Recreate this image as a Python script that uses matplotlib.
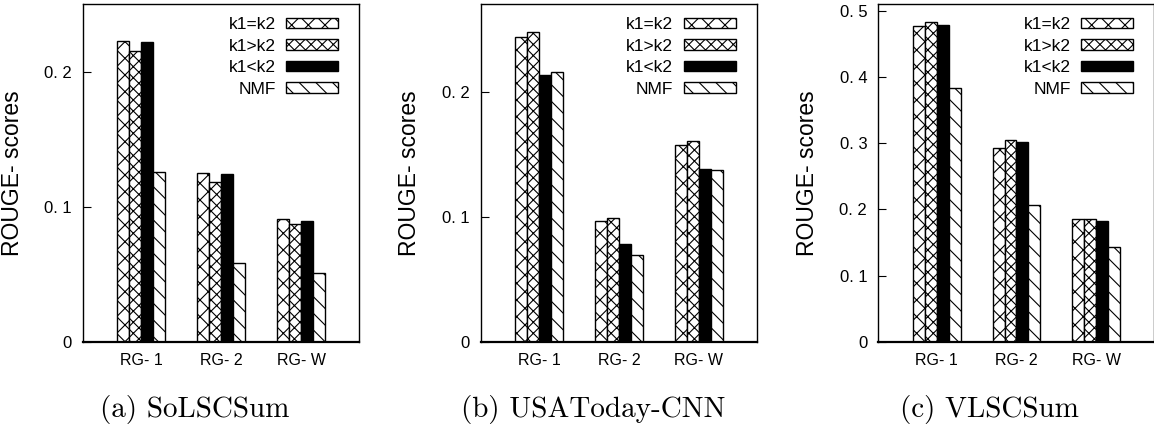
import numpy as np
import matplotlib
matplotlib.use("Agg")
import matplotlib.pyplot as plt

# ------------------------------------------------------------
# Données
# ------------------------------------------------------------
categories = ["RG- 1", "RG- 2", "RG- W"]
series_names = ["k1=k2", "k1>k2", "k1<k2", "NMF"]

solscsum = {
    "k1=k2": [0.2225, 0.1250, 0.0913],
    "k1>k2": [0.2150, 0.1183, 0.0872],
    "k1<k2": [0.2217, 0.1244, 0.0896],
    "NMF":   [0.1254, 0.0583, 0.0513],
}
usatoday_cnn = {
    "k1=k2": [0.2435, 0.0963, 0.1571],
    "k1>k2": [0.2480, 0.0992, 0.1603],
    "k1<k2": [0.2131, 0.0782, 0.1382],
    "NMF":   [0.2155, 0.0691, 0.1371],
}
vlscsum = {
    "k1=k2": [0.4769, 0.2931, 0.1849],
    "k1>k2": [0.4825, 0.3042, 0.1849],
    "k1<k2": [0.4784, 0.3012, 0.1823],
    "NMF":   [0.3828, 0.2060, 0.1426],
}

captions = ["(a) SoLSCSum", "(b) USAToday-CNN", "(c) VLSCSum"]
y_limits = [0.25, 0.27, 0.51]
y_ticks = [[0, 0.1, 0.2], [0, 0.1, 0.2], [0, 0.1, 0.2, 0.3, 0.4, 0.5]]

# styles des barres (noir et blanc, hachures façon gnuplot)
styles = {
    "k1=k2": dict(facecolor="white", hatch="xx"),
    "k1>k2": dict(facecolor="white", hatch="xxx"),
    "k1<k2": dict(facecolor="black", hatch=None),
    "NMF":   dict(facecolor="white", hatch="\\\\"),
}

plt.rcParams["font.family"] = ["Liberation Sans", "DejaVu Sans"]
plt.rcParams["hatch.linewidth"] = 0.8

W, H = 1154, 429
fig = plt.figure(figsize=(W / 100, H / 100), dpi=100)

axes_left = [83, 480.7, 878.3]
ax_w, ax_top, ax_bottom = 276, 4, 342
caption_x = [195, 593, 989]

datasets = [solscsum, usatoday_cnn, vlscsum]
x = np.arange(len(categories))
bar_w = 0.15

for i, data in enumerate(datasets):
    ax = fig.add_axes([axes_left[i] / W, (H - ax_bottom) / H,
                       ax_w / W, (ax_bottom - ax_top) / H])
    for j, name in enumerate(series_names):
        offset = (j - 1.5) * bar_w
        ax.bar(x + offset, data[name], width=bar_w, edgecolor="black",
               linewidth=1.0, label=name, **styles[name])

    ax.set_xlim(-0.73, 2.725)
    ax.set_ylim(0, y_limits[i])
    ax.set_xticks(x)
    ax.set_xticklabels(categories, fontsize=11.5)
    ax.set_yticks(y_ticks[i])
    ax.set_yticklabels(["0"] + ["0. %d" % round(t * 10) for t in y_ticks[i][1:]],
                       fontsize=12)
    ax.tick_params(axis="y", direction="in", length=6, width=0.8, pad=8)
    ax.tick_params(axis="x", length=0, pad=8)
    for side in ["top", "left", "right"]:
        ax.spines[side].set_linewidth(1.0)
    ax.spines["bottom"].set_linewidth(1.6)

    ax.set_ylabel("ROUGE- scores", fontsize=16.5)
    ax.yaxis.set_label_coords(-0.215, 0.5)

    ax.legend(loc="upper right", bbox_to_anchor=(1 - 21 / ax_w, 1 - 13 / 338),
              frameon=False, markerfirst=False,
              fontsize=12.5, handlelength=3.0, handleheight=0.57,
              handletextpad=0.6, labelspacing=0.38,
              borderaxespad=0, borderpad=0)

    fig.text(caption_x[i] / W, (H - 417) / H, captions[i],
             family=["cmr10", "DejaVu Serif"], fontsize=21,
             ha="center", va="baseline")

fig.savefig("out.png", dpi=100)
